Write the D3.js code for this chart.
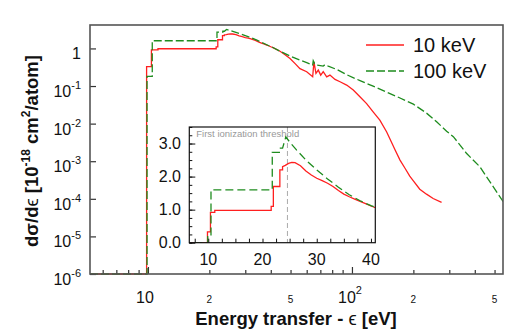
<!DOCTYPE html>
<html>
<head>
<meta charset="utf-8">
<script src="https://cdn.jsdelivr.net/npm/d3@7"></script>
<style>
  body { margin: 0; background: #fff; }
  svg { font-family: "Liberation Sans", Arial, sans-serif; }
</style>
</head>
<body>
<svg width="519" height="330"></svg>
<script>
// energy transfer (eV) and d sigma / d eps (1e-18 cm^2/atom)
const eps10 = [5.2, 9.85, 9.85, 10.4, 10.4, 11.2, 11.2, 21.6, 21.6, 22.0, 22.0, 23.2, 23.2, 23.7, 23.7,
  24.2, 24.8, 25.4, 26.0, 27.0, 28.0, 29.0, 30.0, 31.0, 32.0, 33.0, 34.0, 35.0, 36.0, 37.0, 38.0, 39.0, 40.0,
  41.0, 44.4, 47, 49.7, 52.5, 55.6, 60, 64.2, 65.1, 66.6, 68.4, 70.3, 72.3, 75.2, 78, 82.6, 87.4, 94.2,
  101.5, 109.4, 118, 127, 137, 148, 163, 172, 182, 192, 200, 215, 232, 250, 275]
const sig10 = [0, 0, 0.33, 0.33, 0.92, 0.92, 0.98, 0.98, 1.1, 1.1, 1.7, 1.7, 2.2, 2.2, 2.3,
  2.34, 2.4, 2.43, 2.42, 2.33, 2.17, 2.05, 1.95, 1.88, 1.8, 1.7, 1.58, 1.47, 1.39, 1.32, 1.25, 1.18, 1.11,
  1.05, 0.84, 0.68, 0.54, 0.4, 0.29, 0.24, 0.176, 0.44, 0.216, 0.265, 0.195, 0.24, 0.176, 0.195, 0.15, 0.13, 0.106,
  0.078, 0.052, 0.034, 0.0206, 0.0124, 0.006, 0.00195, 0.00107, 0.00065, 0.0004, 0.0003, 0.00018, 0.000133, 0.000102, 0.00008]

const eps100 = [5.2, 9.9, 9.9, 10.5, 10.5, 21.8, 21.8, 23.3, 23.3, 23.7, 24.3, 25.0, 26.3, 28.0, 30.0,
  32.0, 34.0, 36.0, 38.0, 40.0, 41.0, 44.4, 50, 55.6, 60, 64.2, 64.6, 65.5, 67, 70, 72.3, 73.8, 76.5, 85,
  94.2, 109.5, 127, 148, 172, 200, 232, 260, 291, 314, 365, 424, 457, 552]
const sig100 = [0, 0, 0.18, 0.18, 1.6, 1.6, 2.73, 2.73, 2.86, 2.86, 3.2, 3.05, 2.8, 2.5, 2.2,
  1.93, 1.68, 1.45, 1.27, 1.12, 1.06, 0.84, 0.62, 0.49, 0.42, 0.36, 0.47, 0.4, 0.36, 0.35, 0.34, 0.37, 0.34, 0.27,
  0.2, 0.139, 0.099, 0.069, 0.048, 0.033, 0.019, 0.0112, 0.0063, 0.0045, 0.0016, 0.00071, 0.000385, 0.000083]

const seriesNames = ['10 keV', '100 keV']
const xMajorMain = [10, 100]
const xMinorMain = [6, 7, 8, 9, 20, 30, 40, 50, 60, 70, 80, 90, 200, 300, 400, 500]
const xSmallLabels = [20, 50, 200, 500]
const yExponents = [-6, -5, -4, -3, -2, -1, 0]
const insetXTicks = d3.range(7.5, 40.01, 2.5)
const insetXLabels = [10, 20, 30, 40]
const insetYTicks = d3.range(0, 3.51, 0.25)
const insetYLabels = [0, 1, 2, 3]
const threshold = 24.6

const svg = d3.select('svg')
const red = '#ff1f1f'
const green = '#1e8c1e'
const floor = 1e-6

const main = { left: 90, top: 25, right: 503, bottom: 274 }
const ins = { left: 189.3, top: 127, right: 375.3, bottom: 242.7 }

const x = d3.scaleLog().domain([5.2, 550]).range([main.left, main.right])
const y = d3.scaleLog().domain([floor, 4.2]).range([main.bottom, main.top])
const xi = d3.scaleLinear().domain([6.5, 40.8]).range([ins.left, ins.right])
const yi = d3.scaleLinear().domain([0, 3.5]).range([ins.bottom, ins.top])

const red10 = d3.zip(eps10, sig10)
const green100 = d3.zip(eps100, sig100)

drawMain()
drawInset()
drawLegend()
drawTitles()

function drawMain() {
  const defs = svg.append('defs')
  defs.append('clipPath').attr('id', 'clipMain')
    .append('rect').attr('x', main.left).attr('y', main.top - 2)
    .attr('width', main.right - main.left).attr('height', main.bottom - main.top + 4)

  const line = d3.line()
    .x(d => x(d[0]))
    .y(d => y(Math.max(d[1], floor)))

  const g = svg.append('g').attr('clip-path', 'url(#clipMain)')
  g.append('path').datum(red10)
    .attr('d', line).attr('fill', 'none').attr('stroke', red).attr('stroke-width', 1.3)
  g.append('path').datum(green100)
    .attr('d', line).attr('fill', 'none').attr('stroke', green).attr('stroke-width', 1.3)
    .attr('stroke-dasharray', '8,3')

  // ticks point inward
  const gxMinor = svg.append('g').attr('transform', `translate(0,${main.bottom})`)
    .call(d3.axisBottom(x).tickValues(xMinorMain).tickSize(-4).tickFormat(''))
  const gxMajor = svg.append('g').attr('transform', `translate(0,${main.bottom})`)
    .call(d3.axisBottom(x).tickValues(xMajorMain).tickSize(-7).tickFormat(''))
  const gy = svg.append('g').attr('transform', `translate(${main.left},0)`)
    .call(d3.axisLeft(y).tickValues(yExponents.map(e => Math.pow(10, e))).tickSize(-6).tickFormat(''))
  ;[gxMinor, gxMajor, gy].forEach(a => {
    a.select('.domain').remove()
    a.selectAll('line').attr('stroke', '#333').attr('stroke-width', 1.2)
  })

  svg.append('rect')
    .attr('x', main.left).attr('y', main.top)
    .attr('width', main.right - main.left).attr('height', main.bottom - main.top)
    .attr('fill', 'none').attr('stroke', '#555').attr('stroke-width', 1.6)

  // y labels: 1, 10^-1 ...
  yExponents.forEach(e => {
    const t = svg.append('text')
      .attr('x', 81).attr('y', y(Math.pow(10, e)) + 11)
      .attr('text-anchor', 'end').attr('font-size', 16).attr('fill', '#111')
    if (e === 0) { t.text('1'); return }
    t.append('tspan').text('10')
    t.append('tspan').attr('font-size', 11).attr('dy', -8).text(e)
  })

  // x labels
  svg.append('text').attr('x', x(10) - 3).attr('y', 303)
    .attr('text-anchor', 'middle').attr('font-size', 16).attr('fill', '#111').text('10')
  const t100 = svg.append('text').attr('x', x(100) - 2).attr('y', 303)
    .attr('text-anchor', 'middle').attr('font-size', 16).attr('fill', '#111')
  t100.append('tspan').text('10')
  t100.append('tspan').attr('font-size', 11).attr('dy', -9).text('2')
  xSmallLabels.forEach(v => {
    svg.append('text').attr('x', x(v)).attr('y', 303)
      .attr('text-anchor', 'middle').attr('font-size', 10).attr('fill', '#111')
      .text(String(v).charAt(0))
  })
}

function drawInset() {
  svg.append('rect')
    .attr('x', ins.left).attr('y', ins.top)
    .attr('width', ins.right - ins.left).attr('height', ins.bottom - ins.top)
    .attr('fill', '#fff')

  svg.select('defs').append('clipPath').attr('id', 'clipInset')
    .append('rect').attr('x', ins.left).attr('y', ins.top)
    .attr('width', ins.right - ins.left).attr('height', ins.bottom - ins.top)

  // first ionization threshold
  svg.append('line')
    .attr('x1', xi(threshold)).attr('x2', xi(threshold))
    .attr('y1', ins.top).attr('y2', ins.bottom)
    .attr('stroke', '#aaa').attr('stroke-width', 1).attr('stroke-dasharray', '5,3')
  svg.append('text')
    .attr('x', ins.left + 7).attr('y', ins.top + 10)
    .attr('font-size', 9.5).attr('fill', '#999')
    .text('First ionization threshold')

  const line = d3.line().x(d => xi(d[0])).y(d => yi(d[1]))
  const g = svg.append('g').attr('clip-path', 'url(#clipInset)')
  g.append('path').datum(red10)
    .attr('d', line).attr('fill', 'none').attr('stroke', red).attr('stroke-width', 1.3)
  g.append('path').datum(green100)
    .attr('d', line).attr('fill', 'none').attr('stroke', green).attr('stroke-width', 1.3)
    .attr('stroke-dasharray', '8,4')

  const gx = svg.append('g').attr('transform', `translate(0,${ins.bottom})`)
    .call(d3.axisBottom(xi).tickValues(insetXTicks).tickSize(-4).tickFormat(''))
  const gyMinor = svg.append('g').attr('transform', `translate(${ins.left},0)`)
    .call(d3.axisLeft(yi).tickValues(insetYTicks).tickSize(-3).tickFormat(''))
  const gyMajor = svg.append('g').attr('transform', `translate(${ins.left},0)`)
    .call(d3.axisLeft(yi).tickValues(insetYLabels).tickSize(-6).tickFormat(''))
  ;[gx, gyMinor, gyMajor].forEach(a => {
    a.select('.domain').remove()
    a.selectAll('line').attr('stroke', '#111').attr('stroke-width', 1)
  })

  svg.append('rect')
    .attr('x', ins.left).attr('y', ins.top)
    .attr('width', ins.right - ins.left).attr('height', ins.bottom - ins.top)
    .attr('fill', 'none').attr('stroke', '#111').attr('stroke-width', 1.2)

  insetYLabels.forEach(v => {
    svg.append('text').attr('x', 181).attr('y', yi(v)).attr('dy', '0.36em')
      .attr('text-anchor', 'end').attr('font-size', 16).attr('fill', '#111')
      .text(v.toFixed(1))
  })
  insetXLabels.forEach(v => {
    svg.append('text').attr('x', xi(v)).attr('y', 265)
      .attr('text-anchor', 'middle').attr('font-size', 16).attr('fill', '#111')
      .text(v)
  })
}

function drawLegend() {
  const rows = [
    { name: seriesNames[0], color: red, dash: null, y: 45 },
    { name: seriesNames[1], color: green, dash: '8,3', y: 71 }
  ]
  rows.forEach(r => {
    svg.append('line')
      .attr('x1', 366).attr('x2', 404).attr('y1', r.y).attr('y2', r.y)
      .attr('stroke', r.color).attr('stroke-width', 1.3)
      .attr('stroke-dasharray', r.dash)
    svg.append('text')
      .attr('x', 413).attr('y', r.y + 7)
      .attr('font-size', 20).attr('fill', '#111')
      .text(r.name)
  })
}

function drawTitles() {
  const xt = svg.append('text')
    .attr('x', 296).attr('y', 325)
    .attr('text-anchor', 'middle').attr('font-size', 18.5).attr('font-weight', 'bold').attr('fill', '#111')
  xt.append('tspan').text('Energy transfer - ')
  xt.append('tspan').attr('font-weight', 'normal').text('\u03F5')
  xt.append('tspan').text(' [eV]')

  const yt = svg.append('text')
    .attr('transform', 'translate(38,151) rotate(-90)')
    .attr('text-anchor', 'middle').attr('font-size', 18.5).attr('font-weight', 'bold').attr('fill', '#111')
  yt.append('tspan').text('d\u03C3/d')
  yt.append('tspan').attr('font-weight', 'normal').text('\u03F5')
  yt.append('tspan').text(' [10')
  yt.append('tspan').attr('font-size', 12).attr('dy', -8).text('-18')
  yt.append('tspan').attr('dy', 8).text(' cm')
  yt.append('tspan').attr('font-size', 12).attr('dy', -8).text('2')
  yt.append('tspan').attr('dy', 8).text('/atom]')
}
</script>
</body>
</html>
